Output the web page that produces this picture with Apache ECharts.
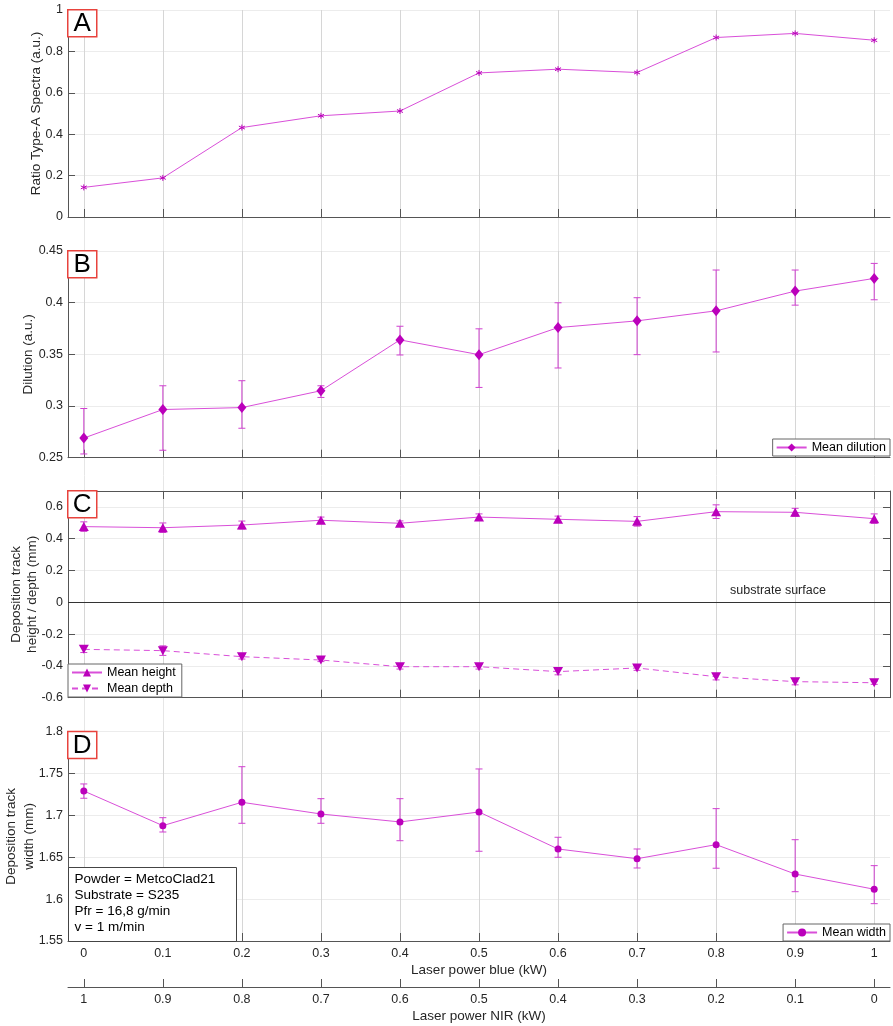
<!DOCTYPE html>
<html><head><meta charset="utf-8">
<script src="https://cdn.jsdelivr.net/npm/echarts@6/dist/echarts.min.js"></script>
<style>html,body{margin:0;padding:0;background:#fff}#c{width:893px;height:1026px}</style>
</head><body><div id="c"></div>
<script>
// ---------- data ----------
const laserBlue = [0, 0.1, 0.2, 0.3, 0.4, 0.5, 0.6, 0.7, 0.8, 0.9, 1];
const laserNIR  = [1, 0.9, 0.8, 0.7, 0.6, 0.5, 0.4, 0.3, 0.2, 0.1, 0];

const ratioTypeA = [0.143, 0.189, 0.432, 0.489, 0.512, 0.696, 0.714, 0.698, 0.867, 0.887, 0.854];

const dilutionMean = [0.269, 0.2966, 0.2985, 0.3148, 0.364, 0.3497, 0.3759, 0.3824, 0.3921, 0.4112, 0.4235];
const dilutionLow  = [0.2536, 0.2572, 0.2785, 0.3083, 0.3494, 0.318, 0.3368, 0.3497, 0.3523, 0.3976, 0.4028];
const dilutionHigh = [0.2976, 0.3196, 0.3245, 0.3196, 0.3772, 0.3747, 0.3999, 0.4048, 0.4316, 0.4316, 0.438];

const heightMean = [0.476, 0.469, 0.486, 0.516, 0.497, 0.536, 0.522, 0.509, 0.570, 0.566, 0.526];
const heightErr  = [0.03, 0.03, 0.025, 0.02, 0.015, 0.02, 0.02, 0.03, 0.043, 0.025, 0.03];
const depthMean  = [-0.296, -0.304, -0.342, -0.363, -0.405, -0.405, -0.436, -0.413, -0.468, -0.499, -0.506];
const depthErr   = [0.02, 0.03, 0.015, 0.01, 0.015, 0.015, 0.02, 0.015, 0.02, 0.02, 0.01];

const widthMean = [1.7292, 1.6878, 1.7157, 1.7017, 1.6922, 1.7041, 1.6599, 1.6483, 1.6651, 1.630, 1.6118];
const widthLow  = [1.7205, 1.6802, 1.6906, 1.6906, 1.6698, 1.6572, 1.65, 1.6372, 1.6369, 1.6089, 1.5946];
const widthHigh = [1.7376, 1.6973, 1.7582, 1.72, 1.72, 1.7555, 1.6739, 1.6599, 1.7081, 1.671, 1.64];

const infoLines = ['Powder = MetcoClad21', 'Substrate = S235', 'Pfr = 16,8 g/min', 'v = 1 m/min'];

// ---------- styles ----------
const FONT = '"Liberation Sans", Arial, Helvetica, sans-serif';
const TXT = '#262626';
const AX = '#555555';
const LINE_C = '#d94fd9';
const MARK_C = '#bb00bb';
const ERR_C = '#d040d0';
const HGRID = '#ececec';
const VGRID_IN = '#d6d6d6';
const VGRID_BG = '#e6e6e6';

const L = 68, W = 822;
const panels = [
  {top: 10, height: 207},
  {top: 251, height: 206.7},
  {top: 491, height: 206.7},
  {top: 731.7, height: 209.3}
];

const pairs = (xs, ys) => xs.map((x, i) => [x, ys[i]]);
const triples = (xs, lo, hi) => xs.map((x, i) => [x, lo[i], hi[i]]);

function errRender(params, api) {
  const x = api.value(0);
  const lo = api.coord([x, api.value(1)]);
  const hi = api.coord([x, api.value(2)]);
  const w = 3.5;
  const style = {stroke: ERR_C, lineWidth: 1, fill: null};
  return {type: 'group', children: [
    {type: 'line', shape: {x1: lo[0], y1: lo[1], x2: hi[0], y2: hi[1]}, style: style},
    {type: 'line', shape: {x1: lo[0] - w, y1: lo[1], x2: lo[0] + w, y2: lo[1]}, style: style},
    {type: 'line', shape: {x1: hi[0] - w, y1: hi[1], x2: hi[0] + w, y2: hi[1]}, style: style}
  ]};
}

function xAx(gridIndex, extra) {
  return Object.assign({
    type: 'value', gridIndex: gridIndex, min: -0.02, max: 1.02, position: 'bottom',
    nameMoveOverlap: false,
    axisLine: {show: true, onZero: false, lineStyle: {color: AX, width: 1}},
    axisTick: {show: true, inside: true, length: 8, customValues: laserBlue, lineStyle: {color: AX}},
    axisLabel: {show: false, customValues: laserBlue},
    splitLine: {show: true, lineStyle: {color: VGRID_IN, width: 1}}
  }, extra || {});
}

function yAx(gridIndex, min, max, interval, name, nameGap, lineH, extra) {
  return Object.assign({
    type: 'value', gridIndex: gridIndex, min: min, max: max, interval: interval, position: 'left',
    name: name, nameLocation: 'middle', nameGap: nameGap, nameMoveOverlap: false,
    nameTextStyle: {fontFamily: FONT, fontSize: 13.5, color: TXT, lineHeight: lineH},
    axisLine: {show: true, onZero: false, lineStyle: {color: AX, width: 1}},
    axisTick: {show: true, inside: true, length: 7, lineStyle: {color: AX}},
    axisLabel: {show: true, margin: 5, fontFamily: FONT, fontSize: 12.5, color: TXT},
    splitLine: {show: true, lineStyle: {color: HGRID, width: 1}}
  }, extra || {});
}

function letterBox(letter, top) {
  return {type: 'group', left: 67, top: top - 1, children: [
    {type: 'rect', z: 100, shape: {x: 1, y: 1, width: 29, height: 27},
     style: {fill: '#ffffff', stroke: '#e8433d', lineWidth: 1.5}},
    {type: 'text', z: 101, x: 15.5, y: 15.5,
     style: {text: letter, font: '26px ' + FONT, fill: '#000', align: 'center', verticalAlign: 'middle'}}
  ]};
}

const grids = [{left: L, top: 10, width: W, height: 931, outerBoundsMode: 'none', containLabel: false}]
  .concat(panels.map(p => ({left: L, top: p.top, width: W, height: p.height, outerBoundsMode: 'none', containLabel: false})));

const xAxes = [
  // background vertical grid lines across the whole figure
  {type: 'value', gridIndex: 0, min: -0.02, max: 1.02,
   axisLine: {show: false}, axisTick: {show: false, customValues: laserBlue},
   axisLabel: {show: false, customValues: laserBlue},
   splitLine: {show: true, lineStyle: {color: VGRID_BG}}},
  xAx(1),
  xAx(2),
  xAx(3),
  xAx(3, {position: 'top', splitLine: {show: false}}),
  xAx(4, {
    axisLabel: {show: true, customValues: laserBlue, margin: 6, fontFamily: FONT, fontSize: 12.5, color: TXT},
    name: 'Laser power blue (kW)', nameLocation: 'middle', nameGap: 22,
    nameTextStyle: {fontFamily: FONT, fontSize: 13.5, color: TXT}
  }),
  xAx(4, {
    position: 'bottom', inverse: true, offset: 46, splitLine: {show: false},
    axisTick: {show: true, inside: true, length: 8, customValues: laserNIR, lineStyle: {color: AX}},
    axisLabel: {show: true, customValues: laserNIR, margin: 6, fontFamily: FONT, fontSize: 12.5, color: TXT},
    name: 'Laser power NIR (kW)', nameLocation: 'middle', nameGap: 22,
    nameTextStyle: {fontFamily: FONT, fontSize: 13.5, color: TXT}
  })
];

const yAxes = [
  {type: 'value', gridIndex: 0, min: 0, max: 1, show: false, splitLine: {show: false}},
  yAx(1, 0, 1, 0.2, 'Ratio Type-A Spectra (a.u.)', 24, 16),
  yAx(2, 0.25, 0.45, 0.05, 'Dilution (a.u.)', 32, 16),
  yAx(3, -0.6, 0.7, 0.2, 'Deposition track\nheight / depth (mm)', 27, 16.5, {
    axisLabel: {show: true, margin: 5, fontFamily: FONT, fontSize: 12.5, color: TXT, showMaxLabel: false}
  }),
  yAx(3, -0.6, 0.7, 0.2, '', 0, 16, {
    position: 'right', axisLabel: {show: false}, splitLine: {show: false}
  }),
  yAx(4, 1.55, 1.8, 0.05, 'Deposition track\nwidth (mm)', 29, 18.5)
];

const series = [
  // A
  {name: 'Ratio', type: 'line', xAxisIndex: 1, yAxisIndex: 1, data: pairs(laserBlue, ratioTypeA),
   symbol: 'path://M0,-1L0,1M-0.87,-0.5L0.87,0.5M-0.87,0.5L0.87,-0.5', symbolSize: 6,
   lineStyle: {color: LINE_C, width: 1},
   itemStyle: {color: MARK_C, borderColor: MARK_C, borderWidth: 1}, z: 3},
  // B
  {name: 'dilErr', type: 'custom', xAxisIndex: 2, yAxisIndex: 2, renderItem: errRender,
   encode: {x: 0, y: [1, 2]}, data: triples(laserBlue, dilutionLow, dilutionHigh), z: 2},
  {name: 'Mean dilution', type: 'line', xAxisIndex: 2, yAxisIndex: 2, data: pairs(laserBlue, dilutionMean),
   symbol: 'diamond', symbolSize: [9, 11],
   lineStyle: {color: LINE_C, width: 1}, itemStyle: {color: MARK_C}, z: 3},
  // C
  {name: 'hErr', type: 'custom', xAxisIndex: 3, yAxisIndex: 3, renderItem: errRender,
   encode: {x: 0, y: [1, 2]},
   data: laserBlue.map((x, i) => [x, heightMean[i] - heightErr[i], heightMean[i] + heightErr[i]]), z: 2},
  {name: 'dErr', type: 'custom', xAxisIndex: 3, yAxisIndex: 3, renderItem: errRender,
   encode: {x: 0, y: [1, 2]},
   data: laserBlue.map((x, i) => [x, depthMean[i] - depthErr[i], depthMean[i] + depthErr[i]]), z: 2},
  {name: 'Mean height', type: 'line', xAxisIndex: 3, yAxisIndex: 3, data: pairs(laserBlue, heightMean),
   symbol: 'triangle', symbolSize: [10, 9],
   lineStyle: {color: LINE_C, width: 1}, itemStyle: {color: MARK_C}, z: 3,
   markLine: {silent: true, symbol: 'none', label: {show: false},
     lineStyle: {color: '#333333', type: 'solid', width: 1},
     data: [{yAxis: 0}]}},
  {name: 'Mean depth', type: 'line', xAxisIndex: 3, yAxisIndex: 3, data: pairs(laserBlue, depthMean),
   symbol: 'triangle', symbolRotate: 180, symbolSize: [10, 9],
   lineStyle: {color: LINE_C, width: 1, type: [6, 4]}, itemStyle: {color: MARK_C}, z: 3},
  // D
  {name: 'wErr', type: 'custom', xAxisIndex: 5, yAxisIndex: 5, renderItem: errRender,
   encode: {x: 0, y: [1, 2]}, data: triples(laserBlue, widthLow, widthHigh), z: 2},
  {name: 'Mean width', type: 'line', xAxisIndex: 5, yAxisIndex: 5, data: pairs(laserBlue, widthMean),
   symbol: 'circle', symbolSize: 7,
   lineStyle: {color: LINE_C, width: 1}, itemStyle: {color: MARK_C}, z: 3}
];

const legendBase = {
  backgroundColor: '#ffffff', borderColor: '#666666', borderWidth: 1, borderRadius: 0,
  itemWidth: 30, itemHeight: 10, itemGap: 2,
  textStyle: {fontFamily: FONT, fontSize: 12.5, color: '#000'}, selectedMode: false, z: 50
};

const option = {
  animation: false,
  backgroundColor: '#ffffff',
  textStyle: {fontFamily: FONT},
  grid: grids,
  xAxis: xAxes,
  yAxis: yAxes,
  series: series,
  legend: [
    Object.assign({}, legendBase, {data: ['Mean dilution'], right: 3, top: 439, padding: [2, 4, 2, 3]}),
    Object.assign({}, legendBase, {data: ['Mean height', 'Mean depth'], orient: 'vertical', left: 68, top: 664, padding: [2, 6, 2, 3], itemGap: 3}),
    Object.assign({}, legendBase, {data: ['Mean width'], right: 3, top: 924, padding: [2, 4, 2, 3]})
  ],
  graphic: [
    letterBox('A', panels[0].top),
    letterBox('B', panels[1].top),
    letterBox('C', panels[2].top),
    letterBox('D', panels[3].top),
    {type: 'text', left: 730, top: 584, z: 60,
     style: {text: 'substrate surface', font: '12.5px ' + FONT, fill: TXT}},
    {type: 'group', left: 68, top: 867, children: [
      {type: 'rect', z: 100, shape: {x: 0, y: 0, width: 168, height: 74},
       style: {fill: '#ffffff', stroke: '#444444', lineWidth: 1}},
      {type: 'text', z: 101, x: 6, y: 4,
       style: {text: infoLines.join('\n'), font: '13.5px ' + FONT, fill: '#000', lineHeight: 16}}
    ]}
  ]
};

const chart = echarts.init(document.getElementById('c'), null, {renderer: 'canvas'});
chart.setOption(option);
</script>
</body></html>
